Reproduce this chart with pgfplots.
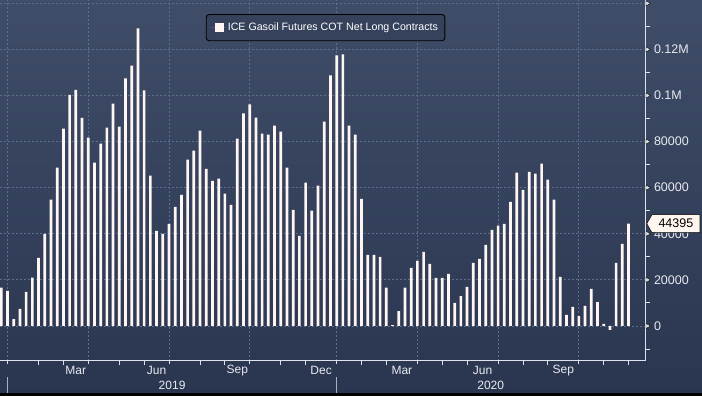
\documentclass[border=0pt]{standalone}
\usepackage{fontspec}
\setmainfont{Liberation Sans}
\usepackage{pgfplots}
\pgfplotsset{compat=1.18}
\usetikzlibrary{shapes.symbols}
\definecolor{bgtop}{RGB}{64,77,104}
\definecolor{bgbot}{RGB}{42,54,80}
\definecolor{barc}{RGB}{255,246,243}
\definecolor{gridc}{RGB}{92,112,142}
\definecolor{axc}{RGB}{222,226,234}
\definecolor{txtc}{RGB}{232,234,240}
\definecolor{legbg}{RGB}{54,66,92}
\definecolor{sepc}{RGB}{170,176,190}
\definecolor{labbg}{RGB}{255,246,240}
\tikzset{mlab/.style={font=\fontsize{12}{14}\selectfont, text=txtc}}
\begin{document}
\begin{tikzpicture}
\useasboundingbox (0,0) rectangle (702pt,396pt);
\shade[top color=bgtop, bottom color=bgbot] (0,0) rectangle (702pt,396pt);
\fill[black] (0,0) rectangle (702pt,2.5pt);
\begin{axis}[
  at={(0pt,35pt)}, anchor=south west,
  scale only axis, width=645pt, height=361pt,
  xmin=-0.21, xmax=103.65, ymin=-15185, ymax=141430,
  axis line style={draw=none},
  clip=false,
  xtick={1,14,27,40,54,67,80,93},
  minor xtick={6,10,19,23,32,36,45,49,58,62,71,75,84,88,97,101},
  xticklabels={},
  xtick pos=left,
  ytick={0,20000,40000,60000,80000,100000,120000,140000},
  yticklabels={0,20000,40000,60000,80000,0.1M,0.12M,{}},
  minor ytick={-10000,10000,30000,50000,70000,90000,110000,130000},
  ytick pos=right, yticklabel pos=right,
  tick align=outside,
  major tick length=3.5pt, minor tick length=4.5pt,
  tick style={axc, line width=0.9pt},
  grid=major,
  major grid style={gridc, dash pattern=on 2pt off 2pt, line width=0.8pt},
  yticklabel style={font=\fontsize{12.5}{14}\selectfont, text=txtc, anchor=west, xshift=2pt},
  legend style={at={(0.319,0.961)}, anchor=north west, draw=black, line width=0.9pt,
    fill=legbg, rounded corners=3pt, text=white,
    font=\fontsize{10.65}{12}\selectfont, inner xsep=5pt, inner ysep=6.5pt},
  legend image code/.code={\fill[barc, rounded corners=0pt] (3.3pt,-4.8pt) rectangle (12.6pt,4.8pt);
    \path (0pt,0pt) -- (14.6pt,0pt);},
]
\addplot[ybar, bar width=2.7pt, bar shift=0pt, fill=barc, draw=none] coordinates {
(0,16700) (1,15200) (2,3000) (3,7400) (4,14800) (5,21000) (6,29600) (7,40000)
(8,54800) (9,68700) (10,85600) (11,100300) (12,102400) (13,90300) (14,81700) (15,70900)
(16,79100) (17,86100) (18,96500) (19,86500) (20,107400) (21,113000) (22,129100) (23,102200)
(24,65200) (25,41300) (26,40000) (27,44300) (28,51700) (29,56900) (30,72200) (31,76100)
(32,84800) (33,68200) (34,63000) (35,63900) (36,57400) (37,52600) (38,81300) (39,92200)
(40,96100) (41,90400) (42,83500) (43,83000) (44,86900) (45,84300) (46,68700) (47,50400)
(48,39100) (49,62200) (50,50000) (51,60900) (52,88700) (53,108700) (54,117400) (55,117800)
(56,86900) (57,83000) (58,55200) (59,30900) (60,30900) (61,30000) (62,16700) (63,400)
(64,6500) (65,16700) (66,25200) (67,28300) (68,32200) (69,27000) (70,20900) (71,20900)
(72,22600) (73,10000) (74,13000) (75,17000) (76,27400) (77,29100) (78,35200) (79,41700)
(80,43500) (81,44300) (82,53900) (83,66500) (84,59100) (85,66900) (86,66100) (87,70400)
(88,63500) (89,54800) (90,21300) (91,4800) (92,8300) (93,4300) (94,8700) (95,16100)
(96,10400) (97,900) (98,-1700) (99,27400) (100,35600) (101,44395)
};
\addlegendentry{ICE Gasoil Futures COT Net Long Contracts}
\addplot[only marks, mark=triangle*, mark size=3pt, forget plot,
  mark options={fill=axc, draw=none, xshift=2.5pt, rotate=-90}] coordinates {
(103.65,0) (103.65,20000) (103.65,40000) (103.65,60000) (103.65,80000)
(103.65,100000) (103.65,120000) (103.65,140000)};
\draw[axc, line width=1pt] (rel axis cs:0,0) -- (rel axis cs:1,0) -- (rel axis cs:1,1);
\node[mlab, yshift=-9.5pt] at (axis cs:12,-15185) {Mar};
\node[mlab, yshift=-9.5pt] at (axis cs:25,-15185) {Jun};
\node[mlab, yshift=-9.5pt] at (axis cs:38,-15185) {Sep};
\node[mlab, yshift=-9.5pt] at (axis cs:51.5,-15185) {Dec};
\node[mlab, yshift=-9.5pt] at (axis cs:64.5,-15185) {Mar};
\node[mlab, yshift=-9.5pt] at (axis cs:77.5,-15185) {Jun};
\node[mlab, yshift=-9.5pt] at (axis cs:90.5,-15185) {Sep};
\node[mlab, yshift=-24.5pt] at (axis cs:27.5,-15185) {2019};
\node[mlab, yshift=-24.5pt] at (axis cs:78.8,-15185) {2020};
\draw[sepc, line width=0.8pt] ([yshift=-16pt]axis cs:1,-15185) -- ([yshift=-32pt]axis cs:1,-15185);
\draw[sepc, line width=0.8pt] ([yshift=-16pt]axis cs:54,-15185) -- ([yshift=-32pt]axis cs:54,-15185);
\coordinate (lab) at (axis cs:103.65,44395);
\end{axis}
\node[signal, signal to=west, signal pointer angle=120, fill=labbg, draw=black, line width=0.5pt,
  text=black, font=\fontsize{12.5}{14}\selectfont, inner xsep=2pt, inner ysep=0pt,
  minimum height=18pt, minimum width=53pt, anchor=west, xshift=1.5pt] at (lab) {44395};
\end{tikzpicture}
\end{document}
